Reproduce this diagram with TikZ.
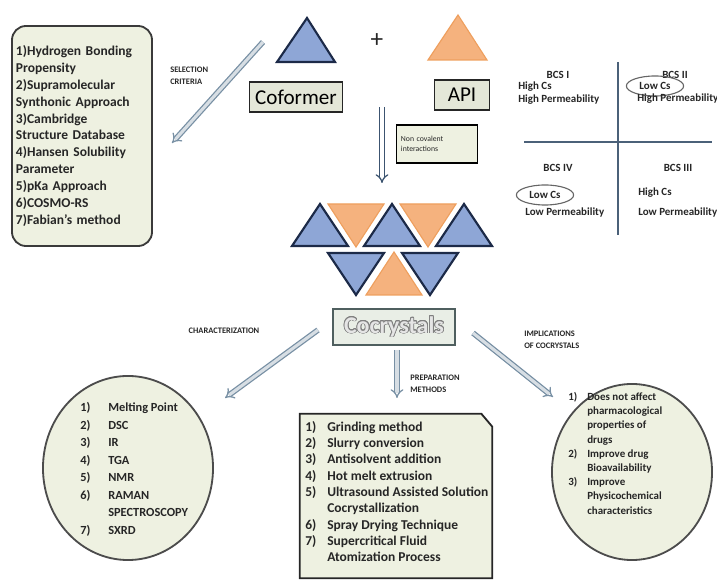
\documentclass[tikz,border=0pt]{standalone}
\usepackage{fontspec}
\setmainfont{Carlito}
\usepackage{contour}
\usetikzlibrary{arrows.meta,shapes.geometric,calc}

\definecolor{triblue}{HTML}{8EA6D6}
\definecolor{trinavy}{HTML}{1C2A48}
\definecolor{triorange}{HTML}{F5B27E}
\definecolor{orangeline}{HTML}{EE9F5E}
\definecolor{boxfill}{HTML}{EEF1E1}
\definecolor{boxline}{HTML}{3A3A3A}
\definecolor{arrowgray}{HTML}{7890A4}
\definecolor{arrownavy}{HTML}{3C5470}
\definecolor{bcsline}{HTML}{4B6179}
\definecolor{textdark}{HTML}{262626}
\definecolor{cocfill}{HTML}{E9EEE6}
\definecolor{cocline}{HTML}{4F5F5F}

\newcommand{\itm}[2][0.7cm]{\makebox[#1][l]{#2}}
\contourlength{0.55pt}

\tikzset{
  listbox/.style={draw=boxline, fill=boxfill, line width=1.3pt},
  listtext/.style={align=left, inner sep=0pt, text=textdark, anchor=north west},
  blutri/.style={fill=triblue, draw=trinavy, line width=1.5pt, line join=miter},
  orantri/.style={fill=triorange, draw=orangeline, line width=0.8pt, line join=miter},
  namebox/.style={draw=black!85, fill=black!4!boxfill, line width=1.2pt, font=\fontsize{15}{18}\selectfont},
  hollow/.style={draw=arrowgray, double=arrowgray!30, double distance=2.2pt, line width=0.9pt, -{Implies}},
  darkhollow/.style={draw=arrownavy, double=white, double distance=2.2pt, line width=0.9pt, -{Implies}},
  capslabel/.style={align=left, inner sep=0pt, text=textdark, font=\fontsize{6}{8.5}\selectfont\bfseries},
  bcstext/.style={inner sep=0pt, text=textdark, font=\fontsize{7.8}{8.8}\selectfont\bfseries},
  lowcs/.style={draw=black!60, line width=0.8pt, ellipse, inner sep=0pt, minimum width=1.43cm, minimum height=0.5cm, text=textdark, font=\fontsize{7.8}{8.8}\selectfont\bfseries},
  bcs/.style={draw=bcsline, line width=2pt}
}

\begin{document}
\begin{tikzpicture}[x=0.025cm, y=-0.025cm]
    \useasboundingbox (0,0) rectangle (717,582);

    % Selection criteria box
    \node[listbox, rounded corners=10pt, minimum width=3.5cm, minimum height=5.5cm,
          inner xsep=0.1cm, text width=3.3cm, align=left, text=textdark,
          font=\fontsize{9.6}{11.95}\selectfont\bfseries] (crit) at (82,136)
        {1)Hydrogen Bonding\\Propensity\\2)Supramolecular\\Synthonic Approach\\3)Cambridge\\Structure Database\\4)Hansen Solubility\\Parameter\\5)pKa Approach\\6)COSMO-RS\\7)Fabian's method};

    % Coformer + API
    \draw[blutri] (277,62) -- (307,18) -- (335,62) -- cycle;
    \draw[orantri] (428,60) -- (458,15) -- (487,60) -- cycle;
    \node[font=\fontsize{18}{20}\selectfont, text=textdark] (plus) at (377,41) {+};
    \node[namebox, minimum width=2.33cm, minimum height=0.75cm] (cof) at (296,97) {Coformer};
    \node[namebox, minimum width=1.38cm, minimum height=0.75cm] (api) at (462,95) {API};

    % Selection criteria arrow
    \coordinate (selstart) at (263,42);
    \coordinate (selend) at (172,143);
    \draw[hollow] (selstart) -- (selend);
    \node[capslabel, anchor=west] (sellbl) at (170,76) {SELECTION\\CRITERIA};

    % Non covalent interactions
    \coordinate (ncstart) at (382,107);
    \coordinate (ncend) at (382,183);
    \draw[darkhollow] (ncstart) -- (ncend);
    \node[draw=black, fill=boxfill, line width=1pt, minimum width=1.98cm, minimum height=0.95cm,
          text width=1.8cm, align=left, text=textdark, font=\fontsize{5.5}{7.5}\selectfont] (noncov) at (437,144)
        {Non covalent\\interactions};

    % BCS quadrants
    \coordinate (bcstop) at (618,62);
    \coordinate (bcsbot) at (618,235);
    \coordinate (bcsleft) at (524,142);
    \coordinate (bcsright) at (712,142);
    \draw[bcs] (bcstop) -- (bcsbot);
    \draw[bcs] (bcsleft) -- (bcsright);
    \node[bcstext] (bcs1) at (558,75) {BCS I};
    \node[bcstext, align=left, anchor=north west] (bcs1txt) at (518,82) {High Cs\\High Permeability};
    \node[bcstext] (bcs2) at (675,75) {BCS II};
    \node[lowcs] (bcs2cs) at (655,86) {Low Cs};
    \node[bcstext, anchor=west] (bcs2perm) at (637,99) {High Permeability};
    \node[bcstext] (bcs4) at (558,168) {BCS IV};
    \node[lowcs] (bcs4cs) at (545,195) {Low Cs};
    \node[bcstext, anchor=west] (bcs4perm) at (525,213) {Low Permeability};
    \node[bcstext] (bcs3) at (678,168) {BCS III};
    \node[bcstext, anchor=west] (bcs3cs) at (638,193) {High Cs};
    \node[bcstext, anchor=west] (bcs3perm) at (638,213) {Low Permeability};

    % Crystal lattice
    \foreach \cx in {320,392,464}
        \draw[blutri] (\cx-28,246) -- (\cx,204) -- (\cx+28,246) -- cycle;
    \foreach \cx in {356,428}
        \draw[orantri] (\cx-28,204) -- (\cx,247) -- (\cx+28,204) -- cycle;
    \foreach \cx in {356,430}
        \draw[blutri] (\cx-28,253) -- (\cx,295) -- (\cx+28,253) -- cycle;
    \draw[orantri] (366,295) -- (394,252) -- (422,295) -- cycle;

    % Cocrystals
    \node[draw=cocline, fill=cocfill, line width=1.5pt, minimum width=3.05cm, minimum height=0.9cm,
          font=\fontsize{17}{20}\selectfont\bfseries] (coc) at (394,327)
        {\contour{black!50}{\textcolor{white!90!black}{Cocrystals}}};

    % Characterization
    \coordinate (charstart) at (318,330);
    \coordinate (charend) at (225,398);
    \draw[hollow] (charstart) -- (charend);
    \node[capslabel] (charlbl) at (224,331) {CHARACTERIZATION};
    \node[draw=black!70, fill=boxfill, line width=1.3pt, ellipse, minimum width=4.25cm, minimum height=4.6cm] (charc) at (128,468) {};
    \node[listtext, font=\fontsize{8.8}{12.5}\selectfont\bfseries] (charlist) at (80,402)
        {\itm{1)}Melting Point\\\itm{2)}DSC\\\itm{3)}IR\\\itm{4)}TGA\\\itm{5)}NMR\\\itm{6)}RAMAN\\\itm{}SPECTROSCOPY\\\itm{7)}SXRD};

    % Preparation methods
    \coordinate (prepstart) at (397,350);
    \coordinate (prepend) at (397,398);
    \draw[hollow] (prepstart) -- (prepend);
    \node[capslabel, anchor=west] (preplbl) at (410,384) {PREPARATION\\METHODS};
    \node[minimum width=4.8cm, minimum height=4.1cm, inner sep=0pt] (prep) at (396,496) {};
    \draw[fill=boxfill, draw=black!85, line width=1.3pt]
        (prep.south west) -- (prep.north west) -- ($(prep.north east)+(-11,0)$)
        -- ($(prep.north east)+(0,13)$) -- (prep.south east) -- cycle;
    \node[listtext, font=\fontsize{9.6}{11.6}\selectfont\bfseries] (preplist) at (305,421)
        {\itm[0.55cm]{1)}Grinding method\\\itm[0.55cm]{2)}Slurry conversion\\\itm[0.55cm]{3)}Antisolvent addition\\\itm[0.55cm]{4)}Hot melt extrusion\\\itm[0.55cm]{5)}Ultrasound Assisted Solution\\\itm[0.55cm]{}Cocrystallization\\\itm[0.55cm]{6)}Spray Drying Technique\\\itm[0.55cm]{7)}Supercritical Fluid\\\itm[0.55cm]{}Atomization Process};

    % Implications of cocrystals
    \coordinate (implstart) at (473,333);
    \coordinate (implend) at (553,397);
    \draw[hollow] (implstart) -- (implend);
    \node[capslabel, anchor=west] (impllbl) at (524,340) {IMPLICATIONS\\OF COCRYSTALS};
    \node[draw=black!70, fill=boxfill, line width=1.3pt, ellipse, minimum width=4cm, minimum height=4.4cm] (implc) at (632,472) {};
    \node[listtext, font=\fontsize{7.8}{10.1}\selectfont\bfseries] (impllist) at (568,392)
        {\itm[0.475cm]{1)}Does not affect\\\itm[0.475cm]{}pharmacological\\\itm[0.475cm]{}properties of\\\itm[0.475cm]{}drugs\\\itm[0.475cm]{2)}Improve drug\\\itm[0.475cm]{}Bioavailability\\\itm[0.475cm]{3)}Improve\\\itm[0.475cm]{}Physicochemical\\\itm[0.475cm]{}characteristics};
\end{tikzpicture}
\end{document}
